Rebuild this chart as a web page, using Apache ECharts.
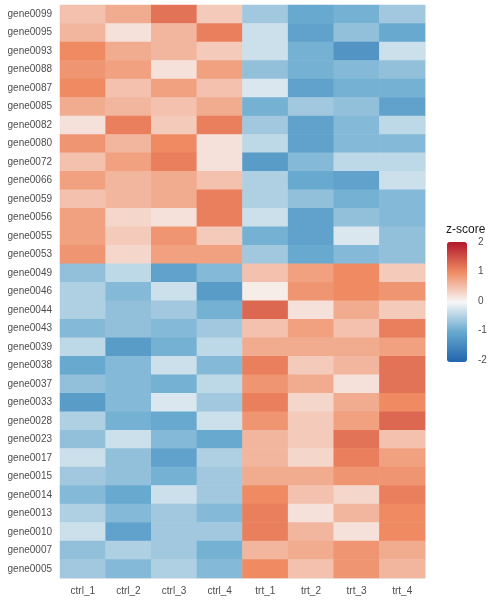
<!DOCTYPE html>
<html><head><meta charset="utf-8">
<script src="https://cdn.jsdelivr.net/npm/echarts@6/dist/echarts.min.js"></script>
<style>html,body{margin:0;background:#fff}#c{width:500px;height:600px}</style>
</head><body><div id="c"></div>
<script>
const samples=['ctrl_1','ctrl_2','ctrl_3','ctrl_4','trt_1','trt_2','trt_3','trt_4'];
const genes=['gene0099','gene0095','gene0093','gene0088','gene0087','gene0085','gene0082','gene0080','gene0072','gene0066','gene0059','gene0056','gene0055','gene0053','gene0049','gene0046','gene0044','gene0043','gene0039','gene0038','gene0037','gene0033','gene0028','gene0023','gene0017','gene0015','gene0014','gene0013','gene0010','gene0007','gene0005'];
const zscores=[
[0.5,0.7,1.2,0.4,-0.6,-1.0,-0.9,-0.6],
[0.6,0.2,0.6,1.1,-0.3,-1.1,-0.7,-1.0],
[1.0,0.7,0.6,0.4,-0.3,-0.9,-1.3,-0.3],
[0.9,0.8,0.2,0.8,-0.7,-0.9,-0.8,-0.7],
[1.0,0.5,0.8,0.5,-0.2,-1.1,-0.9,-0.9],
[0.7,0.6,0.5,0.7,-0.9,-0.6,-0.7,-1.1],
[0.2,1.1,0.4,1.1,-0.6,-1.1,-0.8,-0.4],
[0.9,0.6,1.0,0.2,-0.4,-1.1,-0.8,-0.8],
[0.5,0.8,1.1,0.2,-1.2,-0.8,-0.4,-0.4],
[0.8,0.6,0.7,0.5,-0.5,-1.0,-1.1,-0.3],
[0.5,0.6,0.7,1.1,-0.5,-0.7,-0.9,-0.8],
[0.8,0.3,0.2,1.1,-0.3,-1.1,-0.7,-0.8],
[0.8,0.4,0.9,0.4,-0.9,-1.1,-0.2,-0.7],
[0.9,0.3,0.8,0.8,-0.6,-1.0,-0.8,-0.7],
[-0.7,-0.4,-1.1,-0.8,0.5,0.8,1.0,0.4],
[-0.5,-0.8,-0.3,-1.2,0.1,0.9,1.0,0.9],
[-0.5,-0.7,-0.6,-0.9,1.3,0.2,0.7,0.4],
[-0.8,-0.7,-0.8,-0.6,0.5,0.8,0.5,1.1],
[-0.4,-1.2,-0.9,-0.4,0.7,0.7,0.7,0.8],
[-1.0,-0.8,-0.3,-0.8,1.1,0.4,0.6,1.2],
[-0.7,-0.8,-0.9,-0.4,0.9,0.7,0.2,1.2],
[-1.2,-0.8,-0.2,-0.6,1.1,0.3,0.7,1.0],
[-0.5,-0.9,-1.0,-0.3,0.9,0.4,0.8,1.3],
[-0.7,-0.3,-0.8,-1.0,0.6,0.4,1.2,0.5],
[-0.3,-0.7,-1.1,-0.5,0.6,0.3,1.1,0.8],
[-0.6,-0.7,-0.9,-0.6,0.7,0.7,0.9,0.9],
[-0.8,-1.0,-0.3,-0.6,1.0,0.5,0.3,1.1],
[-0.5,-0.8,-0.6,-0.8,1.1,0.2,0.6,1.0],
[-0.3,-1.1,-0.6,-0.6,1.1,0.6,0.2,1.0],
[-0.7,-0.5,-0.6,-0.9,0.6,0.7,0.9,0.7],
[-0.6,-0.8,-0.5,-0.8,1.0,0.5,0.9,0.6]];
const legendTicks=[2,1,0,-1,-2];
const data=[];
genes.forEach((g,i)=>samples.forEach((s,j)=>data.push([j,i,zscores[i][j]])));
const chart=echarts.init(document.getElementById('c'));
const lab={color:'#4d4d4d',fontSize:10,fontFamily:'Liberation Sans'};
chart.setOption({
 animation:false,
 grid:{left:60,right:75,top:5,bottom:22},
 xAxis:{type:'category',data:samples,axisLine:{show:false},axisTick:{show:false},axisLabel:lab,splitLine:{show:true,lineStyle:{color:'#ebebeb'}}},
 yAxis:{type:'category',data:genes,inverse:true,axisLine:{show:false},axisTick:{show:false},axisLabel:lab,splitLine:{show:true,lineStyle:{color:'#ebebeb'}}},
 visualMap:{type:'continuous',min:-2,max:2,show:true,calculable:false,left:432,top:227,itemWidth:20,itemHeight:120,text:['',''],showLabel:false,
  inRange:{color:['#2166ac','#67a9cf','#f7f7f7','#ef8a62','#b2182b']}},
 graphic:[{type:'text',left:446,top:224,style:{text:'z-score',fontSize:12,fill:'#1a1a1a',fontFamily:'Liberation Sans'}}].concat(
  legendTicks.map((t,k)=>({type:'text',left:478,top:237+k*29.5,style:{text:String(t),fontSize:10,fill:'#4d4d4d',fontFamily:'Liberation Sans'}}))),
 series:[{type:'heatmap',data:data}]
});
</script></body></html>
